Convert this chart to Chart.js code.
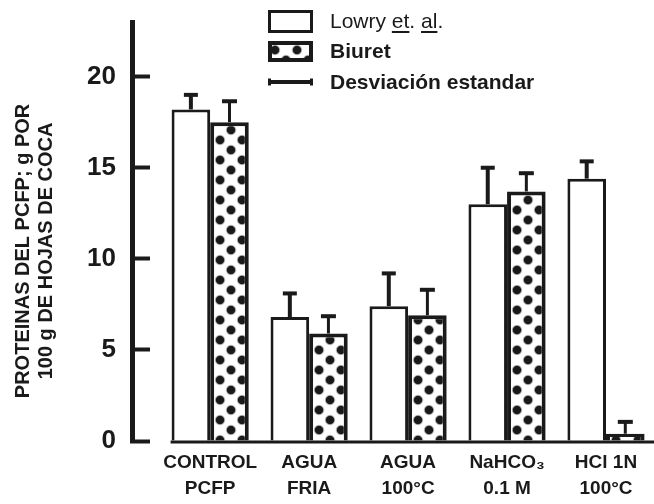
<!DOCTYPE html>
<html>
<head>
<meta charset="utf-8">
<script src="https://cdn.jsdelivr.net/npm/chart.js@4.4.0/dist/chart.umd.min.js"></script>
<style>
  html, body { margin: 0; padding: 0; background: #fff; overflow: hidden; }
</style>
</head>
<body>
<canvas id="myChart" width="654" height="504"></canvas>
<script>
// data
var groups = [["CONTROL", "PCFP"], ["AGUA", "FRIA"], ["AGUA", "100°C"], ["NaHCO₃", "0.1 M"], ["HCl 1N", "100°C"]];
var lowry = [18.2, 6.8, 7.4, 13.0, 14.4];
var lowryErr = [0.8, 1.3, 1.8, 2.0, 0.95];
var biuret = [17.5, 5.9, 6.9, 13.7, 0.4];
var biuretErr = [1.15, 0.95, 1.4, 1.0, 0.65];
var yTicks = [0, 5, 10, 15, 20];
var yTitle = ["PROTEINAS DEL PCFP; g POR       ", "100 g DE HOJAS DE COCA       "];

var ink = '#1a1a1a';
var fam = '"Liberation Sans", Arial, sans-serif';
Chart.defaults.font.family = fam;
Chart.defaults.color = ink;

var ctx = document.getElementById('myChart').getContext('2d');

// dotted fill used for the Biuret bars
function dotPattern() {
  var c = document.createElement('canvas');
  c.width = 22; c.height = 20;
  var g = c.getContext('2d');
  g.fillStyle = '#fff';
  g.fillRect(0, 0, 22, 20);
  [[0, 0], [22, 0], [0, 20], [22, 20], [11, 10]].forEach(function (p) {
    var r = g.createRadialGradient(p[0], p[1], 0, p[0], p[1], 6);
    r.addColorStop(0, ink);
    r.addColorStop(0.62, ink);
    r.addColorStop(1, 'rgba(255,255,255,0)');
    g.fillStyle = r;
    g.beginPath();
    g.arc(p[0], p[1], 6, 0, Math.PI * 2);
    g.fill();
  });
  return ctx.createPattern(c, 'repeat');
}
var dots = dotPattern();

function toPoints(vals) {
  return vals.map(function (v, i) { return {x: i + 1, y: v}; });
}

// upward error bars + baseline
var errorBars = {
  id: 'errorBars',
  afterDatasetsDraw: function (chart) {
    var c = chart.ctx, y = chart.scales.y, x = chart.scales.x;
    var sets = [[lowry, lowryErr, 4, 7], [biuret, biuretErr, 3, 7.5]];
    c.save();
    c.strokeStyle = ink;
    sets.forEach(function (s, d) {
      chart.getDatasetMeta(d).data.forEach(function (bar, i) {
        var top = y.getPixelForValue(s[0][i] + s[1][i]);
        c.lineWidth = s[2];
        c.beginPath();
        c.moveTo(bar.x, bar.y);
        c.lineTo(bar.x, top);
        c.stroke();
        c.lineWidth = 4;
        c.beginPath();
        c.moveTo(bar.x - s[3], top);
        c.lineTo(bar.x + s[3], top);
        c.stroke();
      });
    });
    var y0 = y.getPixelForValue(0) + 1;
    c.lineWidth = 3;
    c.beginPath();
    c.moveTo(x.getPixelForValue(0.6), y0);
    c.lineTo(chart.chartArea.right, y0);
    c.stroke();
    c.restore();
  }
};

// legend in the top area
var legendBox = {
  id: 'legendBox',
  afterDraw: function (chart) {
    var c = chart.ctx;
    c.save();
    c.strokeStyle = ink;
    c.fillStyle = '#fff';
    c.lineWidth = 3;
    c.fillRect(269.5, 11.5, 42, 20);
    c.strokeRect(269.5, 11.5, 42, 20);
    c.fillStyle = dots;
    c.fillRect(269.5, 42.5, 42, 18);
    c.lineWidth = 4;
    c.strokeRect(270, 43, 41, 17);
    c.beginPath();
    c.moveTo(268, 82); c.lineTo(313, 82);
    c.stroke();
    c.lineWidth = 3;
    c.beginPath();
    c.moveTo(269.5, 78.5); c.lineTo(269.5, 85.5);
    c.moveTo(311.5, 78.5); c.lineTo(311.5, 85.5);
    c.stroke();

    c.fillStyle = ink;
    c.textBaseline = 'middle';
    c.textAlign = 'left';
    c.font = '21px ' + fam;
    var parts = [["Lowry ", false], ["et", true], [". ", false], ["al", true], [".", false]];
    var tx = 330;
    parts.forEach(function (p) {
      c.fillText(p[0], tx, 22);
      var w = c.measureText(p[0]).width;
      if (p[1]) {
        c.fillRect(tx, 31, w, 2);
      }
      tx += w;
    });
    c.font = 'bold 21px ' + fam;
    c.fillText("Biuret", 330, 52);
    c.fillText("Desviación estandar", 330, 83);
    c.restore();
  }
};

var chart = new Chart(ctx, {
  type: 'bar',
  data: {
    datasets: [{
      label: 'Lowry et. al.',
      data: toPoints(lowry),
      backgroundColor: '#fff',
      borderColor: ink,
      borderWidth: 3
    }, {
      label: 'Biuret',
      data: toPoints(biuret),
      backgroundColor: dots,
      borderColor: ink,
      borderWidth: 4
    }]
  },
  options: {
    responsive: false,
    animation: false,
    devicePixelRatio: 1,
    categoryPercentage: 0.78,
    barPercentage: 1,
    layout: { padding: { top: 22, left: 0, right: 0, bottom: 0 } },
    plugins: {
      legend: { display: false },
      tooltip: { enabled: false }
    },
    scales: {
      x: {
        type: 'linear',
        offset: false,
        bounds: 'data',
        min: 0.21,
        max: 5.485,
        afterBuildTicks: function (s) {
          s.ticks = groups.map(function (g, i) { return {value: i + 1}; });
        },
        afterFit: function (s) { s.height = 63; },
        ticks: {
          autoSkip: false,
          maxRotation: 0,
          padding: 0,
          color: ink,
          font: { size: 19, weight: 'bold', lineHeight: 1.4 },
          callback: function (v) { return groups[v - 1]; }
        },
        grid: { display: false, offset: false },
        border: { display: false }
      },
      y: {
        min: 0,
        max: 23,
        afterBuildTicks: function (s) {
          s.ticks = yTicks.map(function (v) { return {value: v}; });
        },
        afterFit: function (s) {
          s.width = 132;
          s.paddingTop = 0;
          s.paddingBottom = 0;
        },
        ticks: {
          padding: 34,
          color: ink,
          font: { size: 26, weight: 'bold' }
        },
        grid: {
          drawOnChartArea: false,
          drawTicks: true,
          tickLength: -18,
          tickWidth: 4,
          tickColor: ink
        },
        border: { display: true, width: 5, color: ink },
        title: {
          display: true,
          text: yTitle,
          color: ink,
          padding: { top: 12, bottom: 0 },
          font: { size: 20, weight: 'bold', lineHeight: 1.15 }
        }
      }
    }
  },
  plugins: [errorBars, legendBox]
});
</script>
</body>
</html>
